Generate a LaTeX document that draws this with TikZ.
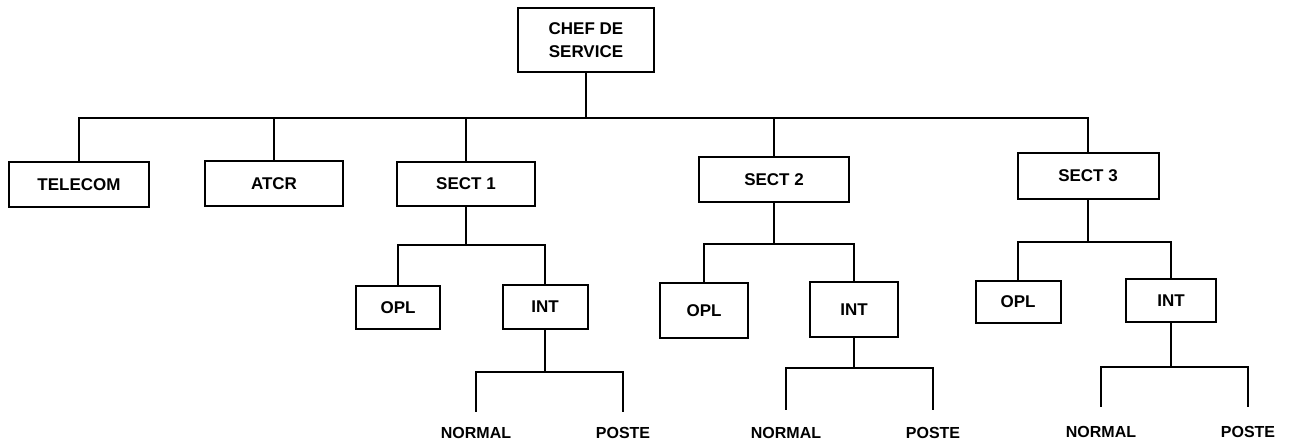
\documentclass[tikz,border=0pt]{standalone}
\usepackage{fontspec}
\setmainfont{Liberation Sans}
\begin{document}
\begin{tikzpicture}[
    x = 1pt, y = -1pt, % page units, y going down
    line width = 2pt, % line style
    font = \fontsize{17}{23}\selectfont\bfseries
  ]

  \tikzstyle{box}=[rectangle,draw=black,fill=white,align=center,inner sep=0pt]
  \tikzstyle{leaf}=[inner sep=0pt,font=\fontsize{16}{20}\selectfont\bfseries]

  \useasboundingbox (0,0) rectangle (1295,443);

  % top level
  \node[box, minimum width=136pt, minimum height=64pt] (chef) at (586,40) {CHEF DE\\SERVICE};
  \node[box, minimum width=140pt, minimum height=45pt] (telecom) at (79,185) {TELECOM};
  \node[box, minimum width=138pt, minimum height=45pt] (atcr) at (274,184) {ATCR};
  \node[box, minimum width=138pt, minimum height=44pt] (sect1) at (466,184) {SECT 1};
  \node[box, minimum width=150pt, minimum height=45pt] (sect2) at (774,180) {SECT 2};
  \node[box, minimum width=141pt, minimum height=46pt] (sect3) at (1088,176) {SECT 3};

  % second level
  \node[box, minimum width=84pt, minimum height=43pt] (opl1) at (398,308) {OPL};
  \node[box, minimum width=85pt, minimum height=44pt] (int1) at (545,307) {INT};
  \node[box, minimum width=88pt, minimum height=55pt] (opl2) at (704,311) {OPL};
  \node[box, minimum width=88pt, minimum height=55pt] (int2) at (854,310) {INT};
  \node[box, minimum width=85pt, minimum height=42pt] (opl3) at (1018,302) {OPL};
  \node[box, minimum width=90pt, minimum height=43pt] (int3) at (1171,301) {INT};

  % leaves
  \node[leaf] (normal1) at (476,433) {NORMAL};
  \node[leaf] (poste1) at (623,433) {POSTE};
  \node[leaf] (normal2) at (786,433) {NORMAL};
  \node[leaf] (poste2) at (933,433) {POSTE};
  \node[leaf] (normal3) at (1101,432) {NORMAL};
  \node[leaf] (poste3) at (1248,432) {POSTE};

  \coordinate (top) at (586,118);
  \coordinate (s1) at (466,245);
  \coordinate (s2) at (774,244);
  \coordinate (s3) at (1088,242);
  \coordinate (i1) at (545,372);
  \coordinate (i2) at (854,368);
  \coordinate (i3) at (1171,367);

  \draw (chef) -- (top);
  \draw (top) -| (telecom);
  \draw (top) -| (atcr);
  \draw (top) -| (sect1);
  \draw (top) -| (sect2);
  \draw (top) -| (sect3);

  \draw (sect1) -- (s1);
  \draw (s1) -| (opl1);
  \draw (s1) -| (int1);
  \draw (sect2) -- (s2);
  \draw (s2) -| (opl2);
  \draw (s2) -| (int2);
  \draw (sect3) -- (s3);
  \draw (s3) -| (opl3);
  \draw (s3) -| (int3);

  \draw (int1) -- (i1);
  \draw[shorten >=14pt] (i1) -| (normal1.north);
  \draw[shorten >=14pt] (i1) -| (poste1.north);
  \draw (int2) -- (i2);
  \draw[shorten >=16pt] (i2) -| (normal2.north);
  \draw[shorten >=16pt] (i2) -| (poste2.north);
  \draw (int3) -- (i3);
  \draw[shorten >=18pt] (i3) -| (normal3.north);
  \draw[shorten >=18pt] (i3) -| (poste3.north);

\end{tikzpicture}
\end{document}
